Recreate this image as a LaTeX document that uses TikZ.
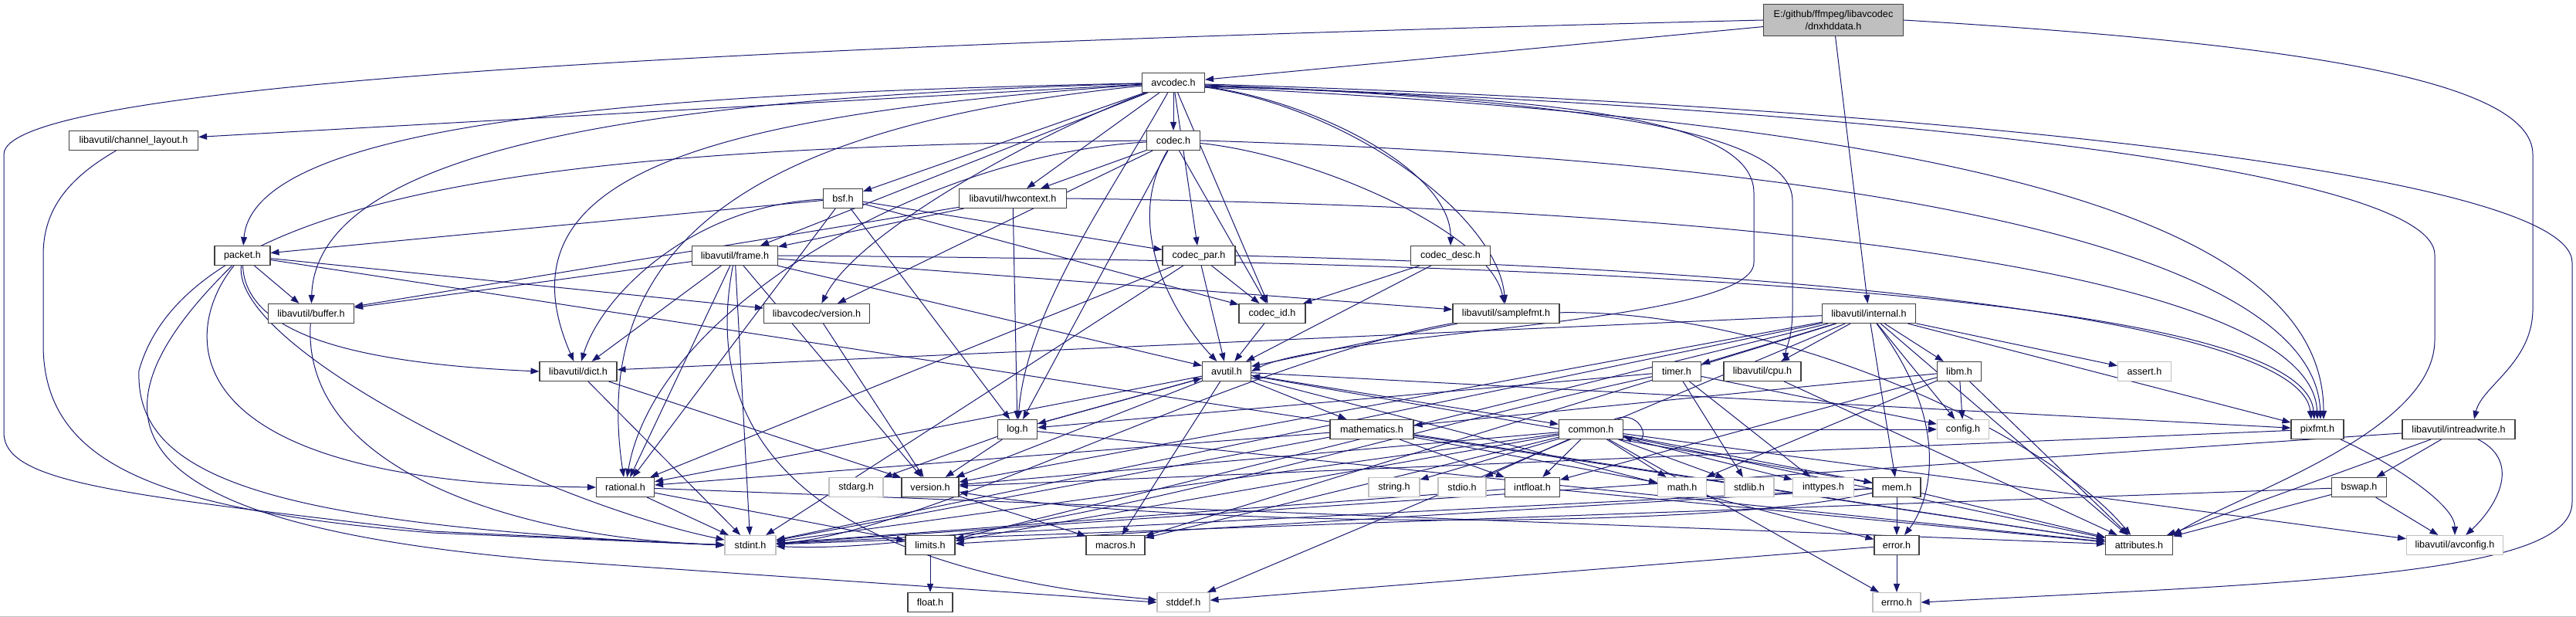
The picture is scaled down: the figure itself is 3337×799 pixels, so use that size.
\documentclass[tikz,border=0pt]{standalone}
\usepackage{fontspec}
\setmainfont{Liberation Sans}
\usetikzlibrary{arrows.meta}
\definecolor{cEdge}{RGB}{25,25,112}
\definecolor{cBox}{RGB}{64,64,64}
\definecolor{cSys}{RGB}{191,191,191}
\pgfdeclarelayer{wires}
\pgfsetlayers{wires,main}

\begin{document}
\begin{tikzpicture}[
  x=1pt, y=-1pt, font=\fontsize{12.6}{16}\selectfont,
  hdr/.style ={draw=cBox, fill=white, line width=1.1pt, minimum height=25pt, inner sep=0pt},
  sys/.style ={hdr, draw=cSys},
  root/.style={hdr, fill=cSys, minimum height=41pt, align=center},
  dep/.style ={draw=cEdge, line width=1pt, -{Triangle[length=11pt,width=8pt]}},
]
\useasboundingbox (0,0) rectangle (3337,799);
\draw[cSys] (0,798) -- (3337,798);

\def\yA{107}\def\yB{182}\def\yC{257}\def\yD{331}\def\yE{406}
\def\yF{481}\def\yG{556}\def\yH{631}\def\yI{706}\def\yJ{780}

% ----- the file itself and its direct includes --------------------------
\node[root, minimum width=181pt] (dn) at (2375,26) {E:/github/ffmpeg/libavcodec\\/dnxhddata.h};
\node[hdr, minimum width=81pt]  (av)  at (1520,\yA) {avcodec.h};
\node[hdr, minimum width=167pt] (chl) at (173,\yB)  {libavutil/channel\_layout.h};
\node[hdr, minimum width=69pt]  (cd)  at (1520,\yB) {codec.h};
\node[hdr, minimum width=51pt]  (bsf) at (1092,\yC) {bsf.h};
\node[hdr, minimum width=139pt] (hw)  at (1312,\yC) {libavutil/hwcontext.h};

% ----- libavcodec / libavutil middle rows -------------------------------
\node[hdr, minimum width=72pt]  (pk)   at (314,\yD)  {packet.h};
\node[hdr, minimum width=111pt] (fr)   at (952,\yD)  {libavutil/frame.h};
\node[hdr, minimum width=94pt]  (cp)   at (1553,\yD) {codec\_par.h};
\node[hdr, minimum width=103pt] (cdd)  at (1879,\yD) {codec\_desc.h};
\node[hdr, minimum width=111pt] (buf)  at (403,\yE)  {libavutil/buffer.h};
\node[hdr, minimum width=137pt] (lcv)  at (1058,\yE) {libavcodec/version.h};
\node[hdr, minimum width=86pt]  (cid)  at (1648,\yE) {codec\_id.h};
\node[hdr, minimum width=138pt] (smp)  at (1951,\yE) {libavutil/samplefmt.h};
\node[hdr, minimum width=121pt] (intl) at (2421,\yE) {libavutil/internal.h};
\node[hdr, minimum width=100pt] (dct)  at (749,\yF)  {libavutil/dict.h};
\node[hdr, minimum width=63pt]  (au)   at (1589,\yF) {avutil.h};
\node[hdr, minimum width=63pt]  (tmr)  at (2172,\yF) {timer.h};
\node[hdr, minimum width=100pt] (cpu)  at (2283,\yF) {libavutil/cpu.h};
\node[hdr, minimum width=57pt]  (lbm)  at (2538,\yF) {libm.h};
\node[sys, minimum width=69pt]  (asr)  at (2778,\yF) {assert.h};
\node[hdr, minimum width=51pt]  (lg)   at (1318,\yG) {log.h};
\node[hdr, minimum width=108pt] (mth)  at (1777,\yG) {mathematics.h};
\node[hdr, minimum width=83pt]  (cmn)  at (2061,\yG) {common.h};
\node[sys, minimum width=67pt]  (cfg)  at (2543,\yG) {config.h};
\node[hdr, minimum width=68pt]  (px)   at (3002,\yG) {pixfmt.h};
\node[hdr, minimum width=146pt] (irw)  at (3185,\yG) {libavutil/intreadwrite.h};

% ----- leaves -------------------------------------------------------------
\node[hdr, minimum width=75pt]  (rat)  at (810,\yH)  {rational.h};
\node[sys, minimum width=70pt]  (sarg) at (1109,\yH) {stdarg.h};
\node[hdr, minimum width=74pt]  (ver)  at (1205,\yH) {version.h};
\node[sys, minimum width=66pt]  (str)  at (1806,\yH) {string.h};
\node[sys, minimum width=62pt]  (sio)  at (1894,\yH) {stdio.h};
\node[hdr, minimum width=71pt]  (ifl)  at (1985,\yH) {intfloat.h};
\node[sys, minimum width=63pt]  (mh)   at (2179,\yH) {math.h};
\node[sys, minimum width=64pt]  (slib) at (2266,\yH) {stdlib.h};
\node[sys, minimum width=79pt]  (ityp) at (2362,\yH) {inttypes.h};
\node[hdr, minimum width=62pt]  (mem)  at (2457,\yH) {mem.h};
\node[hdr, minimum width=71pt]  (bsw)  at (3056,\yH) {bswap.h};
\node[sys, minimum width=66pt]  (sint) at (972,\yI)  {stdint.h};
\node[hdr, minimum width=64pt]  (lim)  at (1205,\yI) {limits.h};
\node[hdr, minimum width=76pt]  (mac)  at (1445,\yI) {macros.h};
\node[hdr, minimum width=58pt]  (err)  at (2457,\yI) {error.h};
\node[hdr, minimum width=87pt]  (attr) at (2771,\yI) {attributes.h};
\node[sys, minimum width=125pt] (avc)  at (3180,\yI) {libavutil/avconfig.h};
\node[hdr, minimum width=58pt]  (flt)  at (1205,\yJ) {float.h};
\node[sys, minimum width=68pt]  (sdef) at (1533,\yJ) {stddef.h};
\node[sys, minimum width=62pt]  (eno)  at (2457,\yJ) {errno.h};

\begin{pgfonlayer}{wires}
% ----- plain includes ----------------------------------------------------
\foreach \s/\t in {dn/av, dn/intl,
    av/chl, av/fr, av/bsf, av/hw, av/cd, av/cp, av/cid,
    cd/hw, cd/lg, cd/cid, cd/lcv,
    bsf/lg, bsf/rat, bsf/cid, bsf/cp, bsf/pk,
    hw/buf, hw/fr, hw/lg,
    pk/buf, pk/lcv, pk/attr,
    fr/sint, fr/au, fr/buf, fr/dct, fr/rat, fr/smp, fr/ver,
    cp/sint, cp/au, cp/rat, cp/cid,
    cdd/au, cdd/cid, lcv/ver, cid/au, smp/au,
    intl/lim, intl/sint, intl/sdef, intl/asr, intl/cfg, intl/attr, intl/tmr,
    intl/cpu, intl/dct, intl/mac, intl/mem, intl/px, intl/ver, intl/lbm,
    dct/sint, dct/ver,
    au/cmn, au/err, au/rat, au/ver, au/mac, au/mth, au/lg, au/px,
    tmr/cfg, tmr/slib, tmr/ityp, tmr/lg, cpu/attr,
    lbm/mh, lbm/ifl, lbm/mth, lbm/attr, lbm/cfg,
    lg/sarg, lg/au, lg/ver, lg/attr,
    mth/sint, mth/mh, mth/attr, mth/rat, mth/ifl,
    cmn/eno, cmn/ityp, cmn/lim, cmn/mh, cmn/sint, cmn/sio, cmn/slib, cmn/str,
    cmn/attr, cmn/mac, cmn/ver, cmn/avc, cmn/cfg, cmn/mem, cmn/ifl,
    err/eno, err/sdef,
    mem/lim, mem/sint, mem/attr, mem/err, mem/au,
    ifl/sint, ifl/attr, rat/sint, rat/lim, rat/attr,
    ver/mac, lim/flt, px/ver,
    irw/sint, irw/attr, irw/bsw, bsw/sint, bsw/avc, bsw/attr}
  \draw[dep] (\s) -- (\t);

% ----- bent includes -----------------------------------------------------
\draw[dep] (av) .. controls (900,120) and (330,150) .. (pk);
\draw[dep] (av) .. controls (900,125) and (410,180) .. (buf);
\draw[dep] (av) .. controls (900,150) and (640,230) .. (dct);
\draw[dep] (av) .. controls (1000,160) and (760,300) .. (rat);
\draw[dep] (av) .. controls (1440,250) and (1330,400) .. (lg);
\draw[dep] (av) .. controls (1350,170) and (1110,300) .. (lcv);
\draw[dep] (av) .. controls (1750,140) and (1940,280) .. (smp);
\draw[dep] (av) .. controls (1700,130) and (1880,220) .. (cdd);
\draw[dep] (cd) .. controls (1450,300) and (1530,420) .. (au);
\draw[dep] (cd) .. controls (1200,200) and (850,400) .. (rat);
\draw[dep] (cd) .. controls (1700,200) and (1930,300) .. (smp);
\draw[dep] (bsf) .. controls (900,265) and (780,380) .. (dct);
\draw[dep] (pk) .. controls (318,430) and (450,470) .. (dct.west);
\draw[dep] (pk) .. controls (240,420) and (200,625) .. (rat.west);
\draw[dep] (pk) .. controls (300,450) and (700,650) .. (sint);
\draw[dep] (pk) .. controls (80,560) and (180,680) .. (700,725) -- (sdef.west);
\draw[dep] (fr) .. controls (900,600) and (1100,740) .. (sdef);
\draw[dep] (buf) .. controls (390,620) and (700,700) .. (sint);
\draw[dep] (smp) .. controls (2300,400) and (2650,560) .. (attr);
\draw[dep] (smp) .. controls (1600,470) and (1200,690) .. (sint);
\draw[dep] (tmr) .. controls (1800,560) and (1300,720) .. (sint);
\draw[dep] (mem) .. controls (2200,690) and (1500,680) .. (ver);
\draw[dep] (px) .. controls (3080,590) and (3180,650) .. (avc);
\draw[dep] (irw) .. controls (3270,600) and (3230,660) .. (avc);
\draw[dep] (intl) .. controls (2530,550) and (2500,650) .. (err);
\draw[dep] ([xshift=-12pt]cmn.north east) .. controls (2128,528) and (2142,580) .. ([yshift=4pt]cmn.south east);

% ----- into pixfmt.h from above --------------------------------------------
\draw[dep] (cd.east) .. controls (2500,210) and (3000,340) .. ([xshift=4pt]px.north);
\draw[dep] (hw.east) .. controls (2400,270) and (2995,370) .. (px.north);
\draw[dep] (fr.east) .. controls (2300,340) and (2985,400) .. ([xshift=-4pt]px.north);
\draw[dep] (cp.east) .. controls (2400,350) and (2980,420) .. ([xshift=-8pt]px.north);

% ----- long detours round the outside --------------------------------------
\draw[dep] (dn.west) .. controls (900,60) and (5,110) .. (5,200) -- (5,560)
  .. controls (5,625) and (150,640) .. (560,688) -- (sint.west);
\draw[dep] (chl) .. controls (90,230) and (56,270) .. (56,330) -- (56,446)
  .. controls (56,600) and (200,660) .. (560,690) -- (sint.west);
\draw[dep] (cd.west) .. controls (800,190) and (250,230) .. (180,480)
  .. controls (175,620) and (350,680) .. (sint.west);
\draw[dep] (dn.east) .. controls (2950,55) and (3281,100) .. (3281,200) -- (3281,400)
  .. controls (3281,470) and (3215,500) .. ([xshift=20pt]irw.north);
\draw[dep] ([yshift=-2pt]av.east) .. controls (2450,135) and (3332,220) .. (3332,340) -- (3332,650)
  .. controls (3332,720) and (3150,745) .. (2780,765) -- (eno.east);
\draw[dep] ([yshift=-4pt]av.east) .. controls (2550,145) and (3154,230) .. (3154,330) -- (3154,440)
  .. controls (3154,560) and (2900,640) .. (attr.north east);
\draw[dep] ([yshift=-6pt]av.east) .. controls (2600,160) and (3010,300) .. ([xshift=8pt]px.north);
\draw[dep] ([yshift=-3pt]av.east) .. controls (2050,130) and (2322,170) .. (2322,260) -- (2322,400)
  .. controls (2322,440) and (2313,450) .. ([xshift=30pt]cpu.north);
\draw[dep] ([yshift=-5pt]av.east) .. controls (2000,125) and (2272,150) .. (2272,250) -- (2272,340)
  .. controls (2272,420) and (1720,430) .. (au.east);
\end{pgfonlayer}

\end{tikzpicture}
\end{document}
